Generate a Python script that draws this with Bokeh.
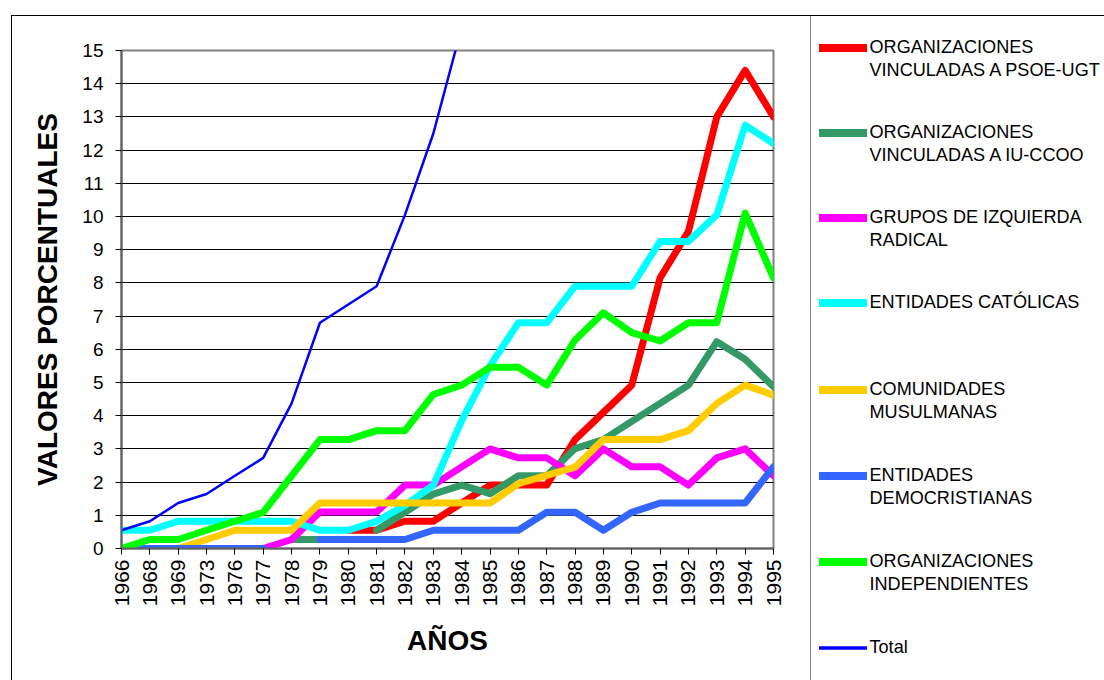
import math
from bokeh.plotting import figure
from bokeh.models import Range1d, FixedTicker, Legend, LegendItem, Spacer
from bokeh.layouts import row, column
from bokeh.embed import file_html
from bokeh.resources import INLINE

nan = float("nan")

years = ["1966", "1968", "1969", "1973", "1976", "1977", "1978", "1979", "1980",
         "1981", "1982", "1983", "1984", "1985", "1986", "1987", "1988", "1989",
         "1990", "1991", "1992", "1993", "1994", "1995"]

psoe_ugt = [nan, nan, nan, nan, nan, nan, nan, nan, 0.55, 0.55, 0.82, 0.82,
            1.37, 1.91, 1.91, 1.91, 3.28, 4.10, 4.92, 8.15, 9.55, 13.0, 14.4, 13.0]
iu_ccoo = [nan, nan, nan, nan, nan, nan, 0.27, 0.27, nan, 0.55, 1.09, 1.64,
           1.91, 1.65, 2.19, 2.19, 3.01, 3.28, 3.83, 4.37, 4.92, 6.23, 5.7, 4.87]
izquierda = [0, 0, 0, 0, 0, 0, 0.27, 1.1, 1.1, 1.1, 1.91, 1.91,
             2.46, 3.0, 2.73, 2.73, 2.19, 3.0, 2.46, 2.46, 1.91, 2.73, 3.0, 2.19]
catolicas = [0.55, 0.55, 0.82, 0.82, 0.82, 0.82, 0.82, 0.55, 0.55, 0.82, 1.3, 1.91,
             3.85, 5.5, 6.8, 6.8, 7.9, 7.9, 7.9, 9.25, 9.25, 10.05, 12.75, 12.2]
musulmanas = [0, 0, 0, 0.27, 0.55, 0.55, 0.55, 1.37, 1.37, 1.37, 1.37, 1.37,
              1.37, 1.37, 1.95, 2.2, 2.45, 3.28, 3.28, 3.28, 3.55, 4.37, 4.92, 4.62]
democristianas = [0, 0, 0, 0, 0, 0, nan, 0.27, 0.27, 0.27, 0.27, 0.55,
                  0.55, 0.55, 0.55, 1.09, 1.09, 0.55, 1.09, 1.37, 1.37, 1.37, 1.37, 2.46]
independientes = [0, 0.27, 0.27, 0.55, 0.82, 1.09, 2.19, 3.28, 3.28, 3.55, 3.55, 4.64,
                  4.92, 5.46, 5.46, 4.92, 6.28, 7.1, 6.5, 6.25, 6.8, 6.8, 10.1, 8.15]
total = [0.55, 0.82, 1.37, 1.64, 2.19, 2.73, 4.37, 6.8, 7.35, 7.9, 10.05, 12.5,
         15.7, nan, nan, nan, nan, nan, nan, nan, nan, nan, nan, nan]

y_ticks = list(range(0, 16))

series = [
    (["ORGANIZACIONES", "VINCULADAS A PSOE-UGT"], psoe_ugt, "#FF0000", 7),
    (["ORGANIZACIONES", "VINCULADAS A IU-CCOO"], iu_ccoo, "#339966", 7),
    (["GRUPOS DE IZQUIERDA", "RADICAL"], izquierda, "#FF00FF", 7),
    (["ENTIDADES CATÓLICAS"], catolicas, "#00FFFF", 7),
    (["COMUNIDADES", "MUSULMANAS"], musulmanas, "#FFCC00", 7),
    (["ENTIDADES", "DEMOCRISTIANAS"], democristianas, "#3366FF", 7),
    (["ORGANIZACIONES", "INDEPENDIENTES"], independientes, "#00FF00", 7),
    (["Total"], total, "#0000FF", 2.5),
]

FONT = "Liberation Sans"

# ---- page geometry (page px) ----
OX, OY = 12, 16            # chart figure origin on the page
PW, PH = 798, 664          # chart figure size
QW = 293                   # legend figure width
FL, FR, FT, FB = 121 - OX, 773 - OX, 50 - OY, 548 - OY  # frame edges in chart canvas px

x = list(range(len(years)))

p = figure(width=PW, height=PH, output_backend="svg", toolbar_location=None,
           x_range=Range1d(0, len(years) - 1), y_range=Range1d(0, 15),
           min_border_left=FL, min_border_right=PW - FR,
           min_border_top=FT, min_border_bottom=PH - FB,
           frame_align=False,
           background_fill_color="white", border_fill_color="white")

p.outline_line_color = "#808080"
p.outline_line_width = 2

p.xgrid.visible = False
p.ygrid.ticker = FixedTicker(ticks=y_ticks)
p.ygrid.grid_line_color = "black"
p.ygrid.grid_line_width = 1

p.xaxis.ticker = FixedTicker(ticks=x)
p.xaxis.major_label_overrides = {i: yr for i, yr in enumerate(years)}
p.xaxis.major_label_orientation = math.pi / 2
p.yaxis.ticker = FixedTicker(ticks=y_ticks)

for ax in (p.xaxis[0], p.yaxis[0]):
    ax.axis_line_color = "#606060"
    ax.axis_line_width = 2
    ax.major_tick_line_color = "black"
    ax.major_tick_out = 6
    ax.major_tick_in = 0
    ax.minor_tick_line_color = None
    ax.major_label_text_font = FONT
    ax.major_label_text_color = "black"
    ax.axis_label_text_font = FONT
    ax.axis_label_text_font_style = "bold"
    ax.axis_label_text_font_size = "28px"
    ax.axis_label_text_color = "black"

p.xaxis.major_label_text_font_size = "21px"
p.xaxis.major_label_standoff = 5
p.xaxis.axis_label = "AÑOS"
p.xaxis.axis_label_standoff = 16
p.yaxis.major_label_text_font_size = "19px"
p.yaxis.major_label_standoff = 12
p.yaxis.axis_label = "VALORES PORCENTUALES"
p.yaxis.axis_label_standoff = 16

for labels, vals, color, lw in series:
    p.line(x, vals, line_color=color, line_width=lw,
           line_join="round", line_cap="round")

# ---- legend panel ----
q = figure(width=QW, height=PH, output_backend="svg", toolbar_location=None,
           x_range=Range1d(0, 1), y_range=Range1d(0, 1),
           x_axis_location=None, y_axis_location=None, min_border=0,
           min_border_left=0, min_border_right=0, min_border_top=0, min_border_bottom=0,
           frame_align=False,
           background_fill_color="white", border_fill_color="white")
q.outline_line_color = None
q.xgrid.visible = False
q.ygrid.visible = False

dummy = q.line([-5, -4], [-5, -5], line_alpha=0)

QX0, QY0 = OX + PW + 1, OY     # legend figure origin on the page
centers = [47, 132, 217, 302, 389, 475, 561, 647]   # page y of first label line
ROW = 23
for (labels, vals, color, lw), c in zip(series, centers):
    proxy = q.line([-5, -4], [-5, -5], line_color=color, line_width=lw + 1,
                   line_cap="round")
    items = [LegendItem(label=labels[0], renderers=[proxy])]
    for extra in labels[1:]:
        items.append(LegendItem(label=extra, renderers=[dummy]))
    top = c - QY0 - ROW / 2
    height = ROW * len(items)
    leg = Legend(items=items, location=(818.5 - QX0, PH - (top + height)),
                 padding=0, margin=0, spacing=0,
                 border_line_alpha=0, background_fill_alpha=0,
                 glyph_width=48, glyph_height=ROW, label_height=ROW,
                 label_standoff=3,
                 label_text_font=FONT, label_text_font_size="18.1px",
                 label_text_color="black")
    q.add_layout(leg)

# ---- frame lines around the chart and the legend ----
page = row(
    Spacer(width=OX - 1, height=OY + PH),
    column(
        Spacer(width=1 + PW + 1 + QW, height=OY - 1),
        Spacer(width=1 + PW + 1 + QW, height=1, styles={"background-color": "black"}),
        row(
            Spacer(width=1, height=PH, styles={"background-color": "black"}),
            p,
            Spacer(width=1, height=PH, styles={"background-color": "#808080"}),
            q,
        ),
    ),
)

open("out.html", "w").write(file_html(page, INLINE))
